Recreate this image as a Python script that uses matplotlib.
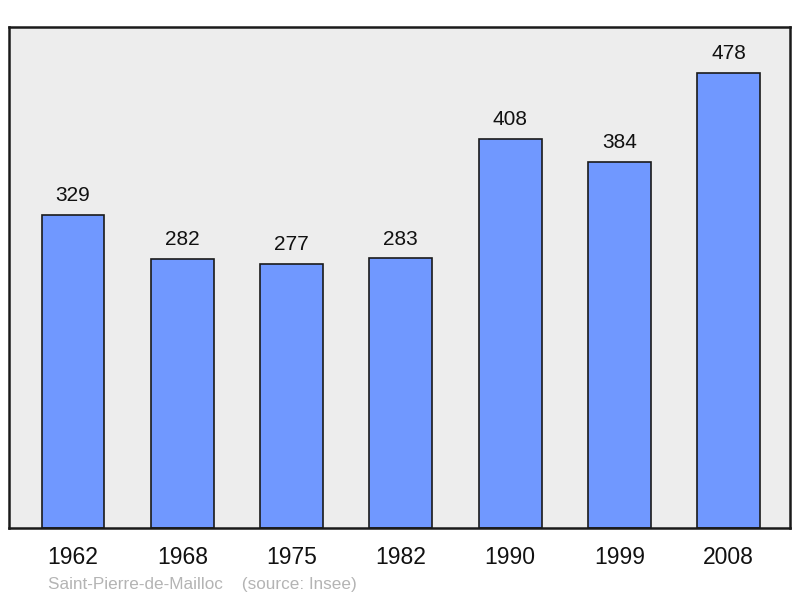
import matplotlib
matplotlib.use('Agg')
import matplotlib.pyplot as plt

plt.rcParams['font.family'] = ['Liberation Sans', 'DejaVu Sans']

years = ['1962', '1968', '1975', '1982', '1990', '1999', '2008']
population = [329, 282, 277, 283, 408, 384, 478]
place = 'Saint-Pierre-de-Mailloc'
source = '(source: Insee)'

fig = plt.figure(figsize=(8, 5.98), dpi=100)
ax = fig.add_axes([9 / 800, 1 - 528 / 598, 781 / 800, 501 / 598])
ax.set_facecolor('#ededed')

x = range(len(years))
ax.bar(x, population, width=0.575, color='#7098ff', edgecolor='#1a1a1a', linewidth=1.2, zorder=2)
for xi, v in zip(x, population):
    ax.annotate(str(v), (xi, v), xytext=(0, 14), textcoords='offset points',
                ha='center', va='center', fontsize=15, color='#111111')

ax.set_xlim(-0.585, 6.56)
ax.set_ylim(0, 526)
ax.set_yticks([])
ax.set_xticks(list(x))
ax.set_xticklabels(years, fontsize=16.5, color='#111111')
ax.tick_params(axis='x', length=0, pad=13)
for s in ax.spines.values():
    s.set_linewidth(1.8)
    s.set_color('#1a1a1a')

fig.text(48 / 800, 1 - 584 / 598, place + '    ' + source, fontsize=12.3, color='#b4b4b4',
         ha='left', va='center')

fig.savefig('out.png', dpi=100)
